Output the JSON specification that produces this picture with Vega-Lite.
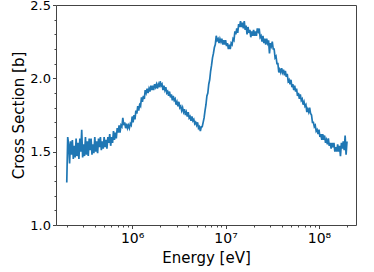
{
  "$schema": "https://vega.github.io/schema/vega-lite/v6.json",
  "width": 300,
  "height": 220,
  "autosize": "none",
  "padding": {"left": 56, "top": 5, "right": 18, "bottom": 47},
  "background": "white",
  "config": {
    "view": {"stroke": "#444444", "strokeWidth": 1},
    "font": "DejaVu Sans",
    "axis": {
      "domain": false,
      "grid": false,
      "labelFont": "DejaVu Sans",
      "titleFont": "DejaVu Sans",
      "labelColor": "#000000",
      "titleColor": "#000000",
      "tickColor": "#444444",
      "tickWidth": 1,
      "labelFontSize": 13,
      "titleFontSize": 15,
      "titleFontWeight": "normal",
      "labelOverlap": false,
      "labelFlush": false
    }
  },
  "data": {"values": [
    {"e":1.995e5,"s":1.29},{"e":2.042e5,"s":1.60},{"e":2.089e5,"s":1.55},{"e":2.138e5,"s":1.42},{"e":2.188e5,"s":1.57},
    {"e":2.239e5,"s":1.48},{"e":2.291e5,"s":1.58},{"e":2.344e5,"s":1.45},{"e":2.399e5,"s":1.54},{"e":2.455e5,"s":1.46},
    {"e":2.512e5,"s":1.59},{"e":2.570e5,"s":1.47},{"e":2.630e5,"s":1.56},{"e":2.692e5,"s":1.45},{"e":2.754e5,"s":1.59},
    {"e":2.818e5,"s":1.50},{"e":2.884e5,"s":1.65},{"e":2.951e5,"s":1.46},{"e":3.020e5,"s":1.55},{"e":3.090e5,"s":1.47},
    {"e":3.162e5,"s":1.60},{"e":3.236e5,"s":1.48},{"e":3.311e5,"s":1.57},{"e":3.388e5,"s":1.47},{"e":3.467e5,"s":1.59},
    {"e":3.548e5,"s":1.51},{"e":3.631e5,"s":1.59},{"e":3.715e5,"s":1.48},{"e":3.802e5,"s":1.55},{"e":3.890e5,"s":1.49},
    {"e":3.981e5,"s":1.60},{"e":4.074e5,"s":1.50},{"e":4.169e5,"s":1.57},{"e":4.266e5,"s":1.49},{"e":4.365e5,"s":1.59},
    {"e":4.467e5,"s":1.53},{"e":4.571e5,"s":1.60},{"e":4.677e5,"s":1.51},{"e":4.786e5,"s":1.57},{"e":4.898e5,"s":1.52},
    {"e":5.012e5,"s":1.60},{"e":5.129e5,"s":1.53},{"e":5.248e5,"s":1.58},{"e":5.370e5,"s":1.52},{"e":5.495e5,"s":1.60},
    {"e":5.623e5,"s":1.56},{"e":5.754e5,"s":1.62},{"e":5.888e5,"s":1.54},{"e":6.026e5,"s":1.60},{"e":6.166e5,"s":1.56},
    {"e":6.310e5,"s":1.64},{"e":6.457e5,"s":1.58},{"e":6.607e5,"s":1.63},{"e":6.761e5,"s":1.59},{"e":6.918e5,"s":1.66},
    {"e":7.079e5,"s":1.63},{"e":7.244e5,"s":1.68},{"e":7.413e5,"s":1.63},{"e":7.586e5,"s":1.68},{"e":7.762e5,"s":1.67},
    {"e":7.943e5,"s":1.73},{"e":8.128e5,"s":1.68},{"e":8.318e5,"s":1.70},{"e":8.511e5,"s":1.66},{"e":8.710e5,"s":1.69},
    {"e":8.913e5,"s":1.66},{"e":9.120e5,"s":1.68},{"e":9.333e5,"s":1.66},{"e":9.550e5,"s":1.69},{"e":9.772e5,"s":1.68},
    {"e":1.000e6,"s":1.74},{"e":1.023e6,"s":1.70},{"e":1.047e6,"s":1.75},{"e":1.072e6,"s":1.72},{"e":1.096e6,"s":1.78},
    {"e":1.122e6,"s":1.76},{"e":1.148e6,"s":1.81},{"e":1.175e6,"s":1.78},{"e":1.202e6,"s":1.82},{"e":1.230e6,"s":1.81},
    {"e":1.259e6,"s":1.87},{"e":1.288e6,"s":1.84},{"e":1.318e6,"s":1.88},{"e":1.349e6,"s":1.86},{"e":1.380e6,"s":1.92},
    {"e":1.413e6,"s":1.90},{"e":1.445e6,"s":1.93},{"e":1.479e6,"s":1.90},{"e":1.514e6,"s":1.93},{"e":1.549e6,"s":1.91},
    {"e":1.585e6,"s":1.95},{"e":1.622e6,"s":1.92},{"e":1.660e6,"s":1.95},{"e":1.698e6,"s":1.92},{"e":1.738e6,"s":1.96},
    {"e":1.778e6,"s":1.94},{"e":1.820e6,"s":1.96},{"e":1.862e6,"s":1.93},{"e":1.905e6,"s":1.96},{"e":1.950e6,"s":1.94},
    {"e":1.995e6,"s":1.98},{"e":2.042e6,"s":1.95},{"e":2.089e6,"s":1.96},{"e":2.138e6,"s":1.92},{"e":2.188e6,"s":1.95},
    {"e":2.239e6,"s":1.92},{"e":2.291e6,"s":1.94},{"e":2.344e6,"s":1.90},{"e":2.399e6,"s":1.91},{"e":2.455e6,"s":1.88},
    {"e":2.512e6,"s":1.91},{"e":2.570e6,"s":1.87},{"e":2.630e6,"s":1.89},{"e":2.692e6,"s":1.85},{"e":2.754e6,"s":1.88},
    {"e":2.818e6,"s":1.85},{"e":2.884e6,"s":1.86},{"e":2.951e6,"s":1.82},{"e":3.020e6,"s":1.84},{"e":3.090e6,"s":1.81},
    {"e":3.162e6,"s":1.84},{"e":3.236e6,"s":1.80},{"e":3.311e6,"s":1.81},{"e":3.388e6,"s":1.78},{"e":3.467e6,"s":1.80},
    {"e":3.548e6,"s":1.77},{"e":3.631e6,"s":1.79},{"e":3.715e6,"s":1.75},{"e":3.802e6,"s":1.77},{"e":3.890e6,"s":1.74},
    {"e":3.981e6,"s":1.77},{"e":4.074e6,"s":1.73},{"e":4.169e6,"s":1.74},{"e":4.266e6,"s":1.71},{"e":4.365e6,"s":1.74},
    {"e":4.467e6,"s":1.71},{"e":4.571e6,"s":1.72},{"e":4.677e6,"s":1.69},{"e":4.786e6,"s":1.70},{"e":4.898e6,"s":1.68},
    {"e":5.012e6,"s":1.70},{"e":5.129e6,"s":1.66},{"e":5.248e6,"s":1.67},{"e":5.370e6,"s":1.64},{"e":5.495e6,"s":1.67},
    {"e":5.623e6,"s":1.67},{"e":5.754e6,"s":1.70},{"e":5.888e6,"s":1.73},{"e":6.026e6,"s":1.78},{"e":6.166e6,"s":1.82},
    {"e":6.310e6,"s":1.88},{"e":6.457e6,"s":1.90},{"e":6.607e6,"s":1.96},{"e":6.761e6,"s":1.99},{"e":6.918e6,"s":2.05},
    {"e":7.079e6,"s":2.09},{"e":7.244e6,"s":2.14},{"e":7.413e6,"s":2.17},{"e":7.586e6,"s":2.21},{"e":7.762e6,"s":2.23},
    {"e":7.943e6,"s":2.29},{"e":8.128e6,"s":2.26},{"e":8.318e6,"s":2.27},{"e":8.511e6,"s":2.24},{"e":8.710e6,"s":2.27},
    {"e":8.913e6,"s":2.25},{"e":9.120e6,"s":2.27},{"e":9.333e6,"s":2.23},{"e":9.550e6,"s":2.26},{"e":9.772e6,"s":2.23},
    {"e":1.000e7,"s":2.26},{"e":1.023e7,"s":2.22},{"e":1.047e7,"s":2.24},{"e":1.072e7,"s":2.20},{"e":1.096e7,"s":2.23},
    {"e":1.122e7,"s":2.20},{"e":1.148e7,"s":2.24},{"e":1.175e7,"s":2.23},{"e":1.202e7,"s":2.27},{"e":1.230e7,"s":2.26},
    {"e":1.259e7,"s":2.32},{"e":1.288e7,"s":2.30},{"e":1.318e7,"s":2.34},{"e":1.349e7,"s":2.31},{"e":1.380e7,"s":2.37},
    {"e":1.413e7,"s":2.35},{"e":1.445e7,"s":2.39},{"e":1.479e7,"s":2.35},{"e":1.514e7,"s":2.38},{"e":1.549e7,"s":2.34},
    {"e":1.585e7,"s":2.39},{"e":1.622e7,"s":2.33},{"e":1.660e7,"s":2.36},{"e":1.698e7,"s":2.30},{"e":1.738e7,"s":2.35},
    {"e":1.778e7,"s":2.31},{"e":1.820e7,"s":2.33},{"e":1.862e7,"s":2.28},{"e":1.905e7,"s":2.32},{"e":1.950e7,"s":2.29},
    {"e":1.995e7,"s":2.33},{"e":2.042e7,"s":2.29},{"e":2.089e7,"s":2.32},{"e":2.138e7,"s":2.29},{"e":2.188e7,"s":2.34},
    {"e":2.239e7,"s":2.32},{"e":2.291e7,"s":2.34},{"e":2.344e7,"s":2.28},{"e":2.399e7,"s":2.29},{"e":2.455e7,"s":2.25},
    {"e":2.512e7,"s":2.29},{"e":2.570e7,"s":2.24},{"e":2.630e7,"s":2.27},{"e":2.692e7,"s":2.23},{"e":2.754e7,"s":2.27},
    {"e":2.818e7,"s":2.24},{"e":2.884e7,"s":2.26},{"e":2.951e7,"s":2.17},{"e":3.020e7,"s":2.24},{"e":3.090e7,"s":2.22},
    {"e":3.162e7,"s":2.25},{"e":3.236e7,"s":2.20},{"e":3.311e7,"s":2.20},{"e":3.388e7,"s":2.14},{"e":3.467e7,"s":2.15},
    {"e":3.548e7,"s":2.10},{"e":3.631e7,"s":2.10},{"e":3.715e7,"s":2.04},{"e":3.802e7,"s":2.06},{"e":3.890e7,"s":2.04},
    {"e":3.981e7,"s":2.07},{"e":4.074e7,"s":2.04},{"e":4.169e7,"s":2.06},{"e":4.266e7,"s":2.02},{"e":4.365e7,"s":2.05},
    {"e":4.467e7,"s":2.01},{"e":4.571e7,"s":2.03},{"e":4.677e7,"s":1.98},{"e":4.786e7,"s":1.99},{"e":4.898e7,"s":1.96},
    {"e":5.012e7,"s":1.99},{"e":5.129e7,"s":1.94},{"e":5.248e7,"s":1.96},{"e":5.370e7,"s":1.92},{"e":5.495e7,"s":1.95},
    {"e":5.623e7,"s":1.91},{"e":5.754e7,"s":1.93},{"e":5.888e7,"s":1.88},{"e":6.026e7,"s":1.90},{"e":6.166e7,"s":1.86},
    {"e":6.310e7,"s":1.89},{"e":6.457e7,"s":1.85},{"e":6.607e7,"s":1.86},{"e":6.761e7,"s":1.82},{"e":6.918e7,"s":1.84},
    {"e":7.079e7,"s":1.81},{"e":7.244e7,"s":1.82},{"e":7.413e7,"s":1.77},{"e":7.586e7,"s":1.79},{"e":7.762e7,"s":1.77},
    {"e":7.943e7,"s":1.80},{"e":8.128e7,"s":1.76},{"e":8.318e7,"s":1.75},{"e":8.511e7,"s":1.70},{"e":8.710e7,"s":1.70},
    {"e":8.913e7,"s":1.67},{"e":9.120e7,"s":1.68},{"e":9.333e7,"s":1.64},{"e":9.550e7,"s":1.65},{"e":9.772e7,"s":1.62},
    {"e":1.000e8,"s":1.65},{"e":1.023e8,"s":1.60},{"e":1.047e8,"s":1.62},{"e":1.072e8,"s":1.58},{"e":1.096e8,"s":1.62},
    {"e":1.122e8,"s":1.58},{"e":1.148e8,"s":1.61},{"e":1.175e8,"s":1.56},{"e":1.202e8,"s":1.58},{"e":1.230e8,"s":1.55},
    {"e":1.259e8,"s":1.59},{"e":1.288e8,"s":1.54},{"e":1.318e8,"s":1.56},{"e":1.349e8,"s":1.52},{"e":1.380e8,"s":1.56},
    {"e":1.413e8,"s":1.53},{"e":1.445e8,"s":1.56},{"e":1.479e8,"s":1.50},{"e":1.514e8,"s":1.53},{"e":1.549e8,"s":1.50},
    {"e":1.585e8,"s":1.55},{"e":1.622e8,"s":1.50},{"e":1.660e8,"s":1.54},{"e":1.698e8,"s":1.47},{"e":1.738e8,"s":1.56},
    {"e":1.778e8,"s":1.52},{"e":1.820e8,"s":1.57},{"e":1.862e8,"s":1.51},{"e":1.905e8,"s":1.61},{"e":1.950e8,"s":1.48},
    {"e":1.995e8,"s":1.57}
  ]},
  "mark": {"type": "line", "color": "#1f77b4", "strokeWidth": 1.7, "clip": true},
  "encoding": {
    "x": {
      "field": "e",
      "type": "quantitative",
      "title": "Energy [eV]",
      "scale": {"type": "log", "domain": [153000, 249000000], "nice": false},
      "axis": {
        "values": [200000, 300000, 400000, 500000, 600000, 700000, 800000, 900000,
                   1000000, 2000000, 3000000, 4000000, 5000000, 6000000, 7000000, 8000000, 9000000,
                   10000000, 20000000, 30000000, 40000000, 50000000, 60000000, 70000000, 80000000, 90000000,
                   100000000, 200000000],
        "labelExpr": "datum.value == 1000000 ? '10⁶' : datum.value == 10000000 ? '10⁷' : datum.value == 100000000 ? '10⁸' : ''",
        "tickSize": {"condition": {"test": "datum.value == 1000000 || datum.value == 10000000 || datum.value == 100000000", "value": 3.5}, "value": 2},
        "labelFontSize": 14,
        "labelPadding": 3,
        "titlePadding": 5
      }
    },
    "y": {
      "field": "s",
      "type": "quantitative",
      "title": "Cross Section [b]",
      "scale": {"domain": [1.0, 2.5], "nice": false, "zero": false},
      "axis": {
        "values": [1.0, 1.1, 1.2, 1.3, 1.4, 1.5, 1.6, 1.7, 1.8, 1.9, 2.0, 2.1, 2.2, 2.3, 2.4, 2.5],
        "labelExpr": "abs(datum.value * 2 - round(datum.value * 2)) < 0.001 ? format(datum.value, '.1f') : ''",
        "tickSize": {"condition": {"test": "abs(datum.value * 2 - round(datum.value * 2)) < 0.001", "value": 3.5}, "value": 2},
        "labelPadding": 2,
        "titlePadding": 3
      }
    }
  }
}
